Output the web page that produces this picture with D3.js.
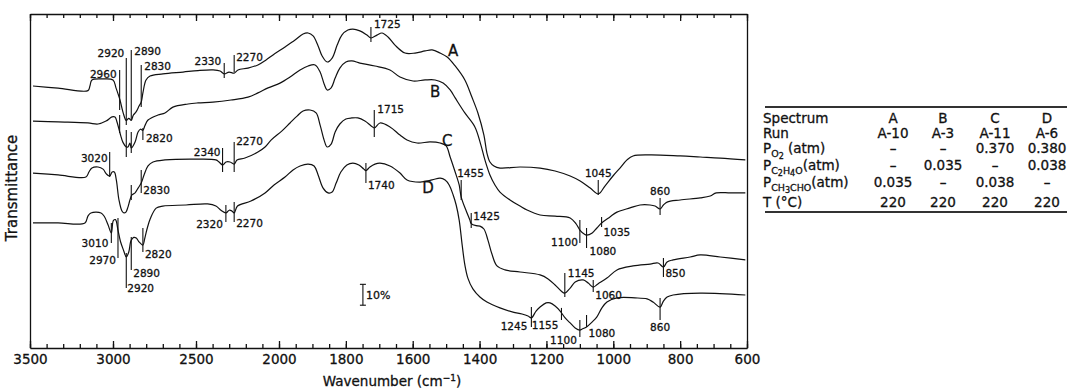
<!DOCTYPE html>
<html>
<head>
<meta charset="utf-8">
<script src="https://cdn.jsdelivr.net/npm/d3@7"></script>
<style>
  body { margin: 0; background: #fff; }
  svg text { font-family: "DejaVu Sans", sans-serif; fill: #111; stroke: #111; stroke-width: 0.3px; }
</style>
</head>
<body>
<svg id="chart" width="1067" height="392"></svg>
<script>
// IR spectra: [wavenumber (cm-1), transmittance (%), traces offset vertically]
const spectrumA = [
  [3482,125.5],[3331,124.5],[3151,123.3],[3139,125.5],[3127,128.4],[3060,128.9],[3000,128.4],[2982,124.6],
  [2958,118.8],[2940,113.0],[2920,109.0],[2905,110.0],[2890,109.0],[2878,111.5],[2861,113.1],[2843,115.9],
  [2830,117.8],[2819,122.6],[2801,128.4],[2777,130.3],[2699,131.3],[2578,132.2],[2488,132.9],[2398,133.2],
  [2355,132.7],[2330,131.3],[2301,132.2],[2270,131.7],[2247,133.2],[2187,134.1],[2127,135.6],[2078,138.0],
  [2036,140.4],[1982,144.2],[1952,147.5],[1928,150.4],[1913,150.9],[1898,149.5],[1883,144.7],[1871,139.9],
  [1856,137.0],[1841,138.9],[1826,145.1],[1812,149.9],[1794,152.3],[1779,152.8],[1758,151.9],[1737,149.9],
  [1725,148.5],[1707,149.9],[1692,150.9],[1674,149.0],[1653,145.1],[1623,141.3],[1593,141.3],[1563,142.3],
  [1542,142.8],[1518,141.3],[1497,139.4],[1473,135.1],[1444,128.4],[1423,120.2],[1405,112.6],[1387,102.0],
  [1378,93.4],[1369,89.1],[1357,87.2],[1339,86.2],[1279,86.7],[1219,86.2],[1174,84.8],[1129,82.4],
  [1099,80.0],[1069,76.6],[1045,73.8],[1025,77.6],[1001,82.4],[980,86.2],[959,90.1],[941,92.0],
  [890,92.5],[800,92.0],[740,91.5],[680,91.0],[605,90.1]
];
const spectrumB = [
  [3482,108.7],[3331,108.3],[3151,107.8],[3090,107.3],[3042,108.7],[3006,110.7],[2988,110.7],[2975,108.0],
  [2958,103.0],[2940,98.5],[2920,96.3],[2910,96.3],[2898,98.2],[2890,95.8],[2867,98.7],[2849,103.5],
  [2835,104.8],[2820,104.3],[2808,106.5],[2789,109.2],[2729,111.6],[2687,112.6],[2639,115.4],[2548,116.9],
  [2488,117.4],[2398,117.8],[2289,118.8],[2187,120.2],[2127,122.2],[2066,124.6],[1997,126.9],[1967,129.8],
  [1937,133.2],[1913,135.1],[1892,135.6],[1877,132.2],[1865,126.5],[1856,123.6],[1844,124.6],[1832,129.3],
  [1818,134.1],[1800,137.0],[1782,137.5],[1758,136.5],[1713,135.1],[1668,133.2],[1638,129.8],[1599,127.9],
  [1563,128.4],[1533,128.4],[1509,126.9],[1488,123.6],[1473,119.8],[1444,112.6],[1414,105.9],[1396,97.2],
  [1384,90.1],[1369,82.9],[1354,78.1],[1339,74.7],[1309,70.9],[1279,68.0],[1258,66.1],[1219,63.7],
  [1174,63.2],[1129,62.3],[1111,59.4],[1100,56.5],[1087,54.6],[1080,54.1],[1063,55.1],[1049,57.5],
  [1035,59.9],[1010,62.8],[989,65.1],[950,67.1],[920,68.5],[890,68.5],[875,68.0],[860,66.6],
  [850,68.5],[839,69.9],[800,70.9],[740,71.9],[710,72.8],[692,74.3],[650,74.3],[605,74.3]
];
const spectrumC = [
  [3482,83.8],[3331,82.9],[3163,81.9],[3145,84.3],[3127,86.2],[3090,86.7],[3060,85.7],[3040,83.4],
  [3020,82.4],[3005,84.3],[2992,84.3],[2980,80.5],[2964,70.9],[2946,65.6],[2934,64.7],[2922,65.1],
  [2910,67.5],[2898,70.9],[2886,73.3],[2867,74.3],[2849,76.6],[2830,79.0],[2813,82.9],[2789,87.2],
  [2759,89.1],[2687,90.1],[2488,90.5],[2380,90.1],[2361,89.1],[2340,87.7],[2319,89.1],[2295,89.1],
  [2270,88.1],[2253,90.1],[2205,91.0],[2127,93.9],[2084,96.3],[2048,99.6],[1991,104.0],[1967,107.8],
  [1946,111.1],[1928,113.5],[1907,114.0],[1889,112.6],[1877,106.8],[1865,99.6],[1856,96.3],[1844,97.7],
  [1832,103.5],[1818,107.3],[1800,109.7],[1782,110.2],[1764,110.2],[1743,108.7],[1725,106.5],[1715,105.4],
  [1698,107.8],[1668,105.9],[1638,102.0],[1617,99.6],[1587,98.2],[1548,98.7],[1518,98.2],[1500,96.8],
  [1488,91.5],[1473,84.3],[1461,78.1],[1455,72.3],[1441,66.1],[1429,61.3],[1425,59.6],[1410,58.6],
  [1399,58.4],[1387,57.0],[1375,51.7],[1363,45.0],[1348,39.3],[1324,37.4],[1279,36.4],[1219,35.0],
  [1195,33.1],[1174,30.2],[1156,27.3],[1145,26.3],[1129,28.7],[1114,31.6],[1090,32.6],[1075,31.1],
  [1060,29.2],[1046,30.7],[1019,33.5],[989,37.4],[941,39.3],[890,40.2],[866,40.7],[850,38.8],
  [839,41.2],[821,42.2],[770,43.6],[740,44.6],[680,43.6],[605,42.2]
];
const spectrumD = [
  [3482,59.9],[3331,59.9],[3169,59.9],[3151,63.2],[3133,64.7],[3072,64.7],[3052,63.0],[3030,59.0],
  [3010,55.1],[2998,61.0],[2985,61.5],[2970,56.5],[2955,51.0],[2935,46.5],[2920,43.6],[2905,46.0],
  [2895,50.5],[2890,51.7],[2875,53.0],[2860,52.7],[2845,51.0],[2820,49.3],[2810,52.0],[2795,57.0],
  [2775,62.0],[2740,67.0],[2700,68.0],[2560,68.5],[2430,69.0],[2380,68.0],[2350,66.0],[2320,64.7],
  [2300,66.0],[2285,65.7],[2270,64.7],[2250,68.0],[2169,70.4],[2084,74.3],[2030,78.1],[1982,81.9],
  [1958,85.3],[1937,87.2],[1913,88.1],[1895,87.2],[1883,82.9],[1868,76.6],[1853,74.3],[1841,74.7],
  [1829,79.0],[1815,84.3],[1797,87.7],[1779,88.6],[1761,87.7],[1746,85.7],[1740,85.0],[1728,86.7],
  [1713,88.1],[1698,88.6],[1668,87.2],[1638,83.8],[1617,80.5],[1578,79.5],[1542,80.5],[1518,81.4],
  [1503,80.5],[1491,78.1],[1479,73.3],[1470,68.5],[1461,61.3],[1452,49.3],[1444,39.8],[1435,33.5],
  [1420,28.3],[1399,24.4],[1378,22.0],[1339,19.2],[1300,17.2],[1273,16.3],[1255,15.3],[1245,14.4],
  [1231,17.7],[1219,19.6],[1201,21.6],[1189,21.6],[1174,20.1],[1159,17.7],[1144,14.4],[1129,12.0],
  [1114,9.6],[1100,8.6],[1093,9.1],[1080,10.1],[1063,12.5],[1049,14.9],[1034,19.2],[1019,22.0],
  [989,24.0],[935,24.0],[899,23.5],[881,22.0],[860,19.6],[850,22.5],[839,24.4],[821,25.4],
  [740,26.3],[605,25.4]
];
const traceNames = ["A", "B", "C", "D"];
// where each trace letter sits: [wavenumber, transmittance]
const traceLetterAt = [[1479,139.9],[1533,120.2],[1497,96.8],[1554,74.3]];

// band assignments marked on the traces: [trace, wavenumber, label]
const bands = [
  ["A",2960,"2960"],["A",2920,"2920"],["A",2890,"2890"],["A",2830,"2830"],["A",2330,"2330"],
  ["A",2270,"2270"],["A",1725,"1725"],["A",1045,"1045"],
  ["B",2960,""],["B",2920,""],["B",2890,""],["B",2820,"2820"],["B",1100,"1100"],["B",1080,"1080"],
  ["B",1035,"1035"],["B",860,"860"],
  ["C",3020,"3020"],["C",2890,""],["C",2830,"2830"],["C",2340,"2340"],["C",2270,"2270"],
  ["C",1715,"1715"],["C",1455,"1455"],["C",1425,"1425"],["C",1145,"1145"],["C",1060,"1060"],
  ["C",850,"850"],
  ["D",3010,"3010"],["D",2970,"2970"],["D",2920,"2920"],["D",2890,"2890"],["D",2820,"2820"],
  ["D",2320,"2320"],["D",2270,"2270"],["D",1740,"1740"],["D",1245,"1245"],["D",1155,"1155"],
  ["D",1100,"1100"],["D",1080,"1080"],["D",860,"860"]
];
// marker layout per band: [tick top %, tick bottom %, text anchor, text dx px, text baseline %]
const bandLayout = [
  [133.2,114.0,"end",-3,129.3],[138.9,106.8,"end",-2,139.4],[142.8,109.2,"start",3,140.4],
  [135.6,115.4,"start",3,133.2],[136.5,129.3,"end",-3,135.6],[140.4,132.2,"start",2,137.5],
  [153.8,146.6,"start",3,153.3],[80.5,73.3,"middle",0,81.9],
  [111.6,103.0,"start",0,0],[104.4,91.5,"start",0,0],[103.5,93.4,"start",0,0],
  [105.4,99.6,"start",3,98.7],[61.3,50.3,"end",-2,48.9],[57.5,47.9,"start",3,44.6],
  [62.8,58.0,"start",2,53.7],[71.9,63.7,"middle",0,73.3],
  [93.9,81.9,"end",-2,89.1],[78.1,70.9,"start",0,0],[85.3,74.3,"start",2,73.8],
  [95.8,84.3,"end",-2,92.0],[98.7,84.3,"start",2,97.2],[114.0,101.1,"start",3,112.6],
  [80.5,70.9,"start",-4,81.9],[64.7,57.5,"start",2,61.3],[35.9,24.4,"start",3,34.0],
  [32.6,26.8,"start",2,23.5],[43.1,34.0,"start",2,34.0],
  [59.9,50.3,"end",-3,48.4],[62.3,43.1,"end",-2,40.2],[45.5,28.7,"start",1,26.8],
  [53.2,37.4,"start",2,34.0],[57.5,46.0,"start",2,43.1],[68.5,60.4,"end",-3,57.5],
  [69.9,60.4,"start",2,58.0],[88.6,79.0,"start",2,76.2],[19.6,10.1,"end",-4,8.6],
  [19.2,13.4,"end",-3,9.1],[13.4,5.3,"end",-3,1.9],[15.8,10.1,"start",2,5.3],
  [24.0,13.4,"middle",0,8.1]
];

// scale bar: 10 % transmittance
const scaleBar = { wn: 1749, from: 20.5, to: 30.5, text: "10%" };

// axis
const xLabelTicks = [3500, 3000, 2500, 2000, 1800, 1600, 1400, 1200, 1000, 800, 600];
const xMinorTicks = d3.range(3500, 2000, -100).concat(d3.range(2000, 599, -50));
const xTitle = "Wavenumber (cm";
const yTitle = "Transmittance";

// experimental conditions table
const tableRows = [
  { label: [["Spectrum", 0]], values: ["A", "B", "C", "D"] },
  { label: [["Run", 0]], values: ["A-10", "A-3", "A-11", "A-6"] },
  { label: [["P", 0], ["O", 1], ["2", 2], [" (atm)", 0]], values: ["–", "–", "0.370", "0.380"] },
  { label: [["P", 0], ["C", 1], ["2", 2], ["H", 1], ["4", 2], ["O", 1], ["(atm)", 0]], values: ["–", "0.035", "–", "0.038"] },
  { label: [["P", 0], ["CH", 1], ["3", 2], ["CHO", 1], ["(atm)", 0]], values: ["0.035", "–", "0.038", "–"] },
  { label: [["T (°C)", 0]], values: ["220", "220", "220", "220"] }
];

// ---------------------------------------------------------------- drawing
const svg = d3.select("#chart");
const W = 1067;
const plot = { left: 30, right: 747, top: 14, bottom: 348 };

const x = d3.scaleLinear().domain([3500, 2000, 600]).range([plot.left, 279, plot.right]);
const y = d3.scaleLinear().domain([0, 160]).range([plot.bottom, plot.top]);

const ink = "#111";

// frame + ticks
function tickAxis(axisFn, values, size, labels) {
  return axisFn(x).tickValues(values).tickSize(size).tickSizeOuter(0)
    .tickFormat(labels ? d3.format("d") : "");
}
svg.append("g").attr("transform", `translate(0,${plot.bottom})`)
  .call(tickAxis(d3.axisBottom, xMinorTicks, -4, false));
const bottomMajor = svg.append("g").attr("transform", `translate(0,${plot.bottom})`)
  .call(tickAxis(d3.axisBottom, xLabelTicks, -7, true).tickPadding(6));
bottomMajor.select(".domain").remove();
bottomMajor.selectAll("text").attr("font-size", 13.5).attr("font-family", "DejaVu Sans").attr("fill", ink);

svg.append("g").attr("transform", `translate(0,${plot.top})`)
  .call(tickAxis(d3.axisTop, xMinorTicks, -4, false));
const topMajor = svg.append("g").attr("transform", `translate(0,${plot.top})`)
  .call(tickAxis(d3.axisTop, xLabelTicks, -7, false));
topMajor.select(".domain").remove();

svg.append("g").attr("transform", `translate(${plot.left},0)`)
  .call(d3.axisLeft(y).tickValues([]).tickSizeOuter(0));
svg.append("g").attr("transform", `translate(${plot.right},0)`)
  .call(d3.axisRight(y).tickValues([]).tickSizeOuter(0));

svg.selectAll(".domain, .tick line").attr("stroke", ink).attr("stroke-width", 1.3);

// axis titles
const xt = svg.append("text").attr("x", 392).attr("y", 386).attr("text-anchor", "middle")
  .attr("font-size", 13.5).text(xTitle);
xt.append("tspan").attr("font-size", 9).attr("dy", -5).text("−1");
xt.append("tspan").attr("dy", 5).text(")");

svg.append("text").attr("transform", "translate(17,188) rotate(-90)")
  .attr("text-anchor", "middle").attr("font-size", 15).text(yTitle);

// spectra
const line = d3.line()
  .x(d => x(d[0])).y(d => y(d[1]))
  .curve(d3.curveCatmullRom.alpha(0.5));
const spectra = [spectrumA, spectrumB, spectrumC, spectrumD];
svg.append("g").selectAll("path").data(spectra).join("path")
  .attr("d", line).attr("fill", "none").attr("stroke", ink)
  .attr("stroke-width", 1.2).attr("stroke-linejoin", "round");

// trace letters
svg.append("g").selectAll("text").data(traceNames).join("text")
  .attr("x", (d, i) => x(traceLetterAt[i][0]))
  .attr("y", (d, i) => y(traceLetterAt[i][1]))
  .attr("text-anchor", "middle").attr("font-size", 15).text(d => d);

// band markers
const bandG = svg.append("g");
bands.forEach((b, i) => {
  const [top, bot, anchor, dx, base] = bandLayout[i];
  const bx = x(b[1]);
  bandG.append("line").attr("x1", bx).attr("x2", bx)
    .attr("y1", y(top)).attr("y2", y(bot))
    .attr("stroke", ink).attr("stroke-width", 1.1);
  if (b[2]) {
    bandG.append("text").attr("x", bx + dx).attr("y", y(base))
      .attr("text-anchor", anchor).attr("font-size", 10.5).text(b[2]);
  }
});

// 10 % scale bar
const sbx = x(scaleBar.wn);
const sb = svg.append("g").attr("stroke", ink).attr("stroke-width", 1.1);
sb.append("line").attr("x1", sbx).attr("x2", sbx).attr("y1", y(scaleBar.from)).attr("y2", y(scaleBar.to));
[scaleBar.from, scaleBar.to].forEach(v =>
  sb.append("line").attr("x1", sbx - 3).attr("x2", sbx + 3).attr("y1", y(v)).attr("y2", y(v)));
svg.append("text").attr("x", sbx + 3).attr("y", y((scaleBar.from + scaleBar.to) / 2) + 4)
  .attr("font-size", 11).text(scaleBar.text);

// conditions table
const tbl = { left: 763, right: W, top: 107, bottom: 212, colX: [893, 943, 995, 1047],
              rowY: [123, 138, 153, 170, 187, 207] };
[tbl.top, tbl.bottom].forEach(ty =>
  svg.append("line").attr("x1", 765).attr("x2", tbl.right).attr("y1", ty).attr("y2", ty)
    .attr("stroke", "#333").attr("stroke-width", 2));

const subShift = [0, 3.5, 5.5];
const subSize = [13.5, 9.5, 8];
tableRows.forEach((row, r) => {
  const t = svg.append("text").attr("x", tbl.left).attr("y", tbl.rowY[r]).attr("font-size", 13.5);
  let level = 0;
  row.label.forEach(([s, lv]) => {
    t.append("tspan").attr("dy", subShift[lv] - subShift[level])
      .attr("font-size", subSize[lv]).text(s);
    level = lv;
  });
  row.values.forEach((v, c) => {
    svg.append("text").attr("x", tbl.colX[c]).attr("y", tbl.rowY[r])
      .attr("text-anchor", "middle").attr("font-size", 13.5).text(v);
  });
});
</script>
</body>
</html>
